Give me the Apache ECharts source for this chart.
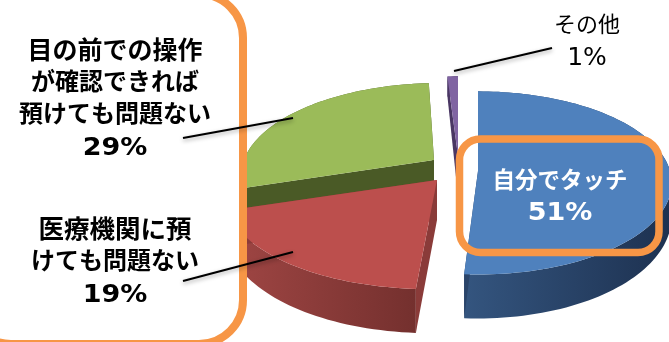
<!DOCTYPE html>
<html>
<head>
<meta charset="utf-8">
<style>
  html, body { margin: 0; padding: 0; background: #fff; }
  #chart { width: 669px; height: 342px; }
</style>
<script src="https://cdn.jsdelivr.net/npm/echarts@6/dist/echarts.min.js"></script>
</head>
<body>
<div id="chart"></div>
<script>
// Share of answers, clockwise from twelve o'clock
const categories = ['自分でタッチ', '医療機関に預けても問題ない', '目の前での操作が確認できれば預けても問題ない', 'その他'];
const shares = [51, 19, 29, 1];

// Back-to-front painting order of the exploded slices
const paintOrder = [2, 3, 1, 0];

// Tip of each pulled-out slice, its scale on the tilted disc and its lean
const sliceTips = [[478, 171], [437, 180], [434, 160], [458, 156]];
const sliceScale = [[192, 90], [210, 95], [190, 87], [190, 90]];
const sliceSkew = [0, -0.055, -0.07, 0];
const perspective = 0.13;

const topFaceColors = ['#4F81BD', '#BC4F4D', '#9BBB59', '#8064A2'];
const rimColors = [['#34557F', '#1D3150'], ['#A04644', '#74302E'], ['#5A6E2C', '#4A5A26'], ['#5B4678', '#3B2C52']];
const cutColors = ['#2A4469', '#8A3B39', '#4A5A26', '#4A3763'];

const FONT = '"DejaVu Sans", "Noto Sans CJK JP", sans-serif';

function project(index, angle, drop) {
  const [tx, ty] = sliceTips[index];
  const [rx, ry] = sliceScale[index];
  const s = Math.sin(angle), c = Math.cos(angle);
  const d = 1 + perspective * c;
  const dy = -ry * c / d;
  return [tx + rx * s / d + sliceSkew[index] * dy, ty + dy + drop];
}

// Wall height shrinks towards the sides of the disc, as it does under perspective
function wallDrop(angle) {
  return 32 - 12 * Math.cos(angle);
}

function sliceRange(index) {
  const total = shares.reduce((a, b) => a + b, 0);
  const before = shares.slice(0, index).reduce((a, b) => a + b, 0);
  return [before / total * 2 * Math.PI, (before + shares[index]) / total * 2 * Math.PI];
}

function renderSlice(params, api) {
  const index = api.value(0);
  const [from, to] = sliceRange(index);
  const steps = Math.max(2, Math.ceil((to - from) / 0.03));
  const topArc = [], lowArc = [];
  for (let k = 0; k <= steps; k++) {
    const a = from + (to - from) * k / steps;
    topArc.push(project(index, a, 0));
    lowArc.push(project(index, a, wallDrop(a)));
  }
  const tip = sliceTips[index].slice();
  const tipLow = [tip[0], tip[1] + 40];
  const poly = (points, fill) => ({ type: 'polygon', shape: { points }, style: { fill } });
  const rimFill = new echarts.graphic.LinearGradient(0, 0, 1, 0, [
    { offset: 0, color: rimColors[index][0] },
    { offset: 1, color: rimColors[index][1] }
  ]);
  const children = [
    poly(topArc.concat(lowArc.slice().reverse()), rimFill),
    poly([tip, topArc[0], lowArc[0], tipLow], cutColors[index]),
    poly([tip, topArc[steps], lowArc[steps], tipLow], cutColors[index]),
    poly([tip].concat(topArc), topFaceColors[index])
  ];
  return { type: 'group', children };
}

function label(text, x, y, size, color, weight, stretch) {
  return {
    type: 'text', z: 120, silent: true,
    x, y, scaleX: stretch || 1,
    style: {
      text, x: 0, y: 0, fill: color, align: 'center', verticalAlign: 'middle',
      font: `${weight} ${size}px ${FONT}`
    }
  };
}

function leader(points) {
  return {
    type: 'polyline', z: 110, silent: true,
    shape: { points },
    style: {
      stroke: '#000', lineWidth: 2, fill: null,
      shadowBlur: 4, shadowColor: 'rgba(0,0,0,0.35)', shadowOffsetY: 2
    }
  };
}

const chart = echarts.init(document.getElementById('chart'), null, { renderer: 'canvas' });
chart.setOption({
  animation: false,
  backgroundColor: '#fff',
  series: [{
    type: 'custom',
    coordinateSystem: 'none',
    silent: true,
    clip: false,
    renderItem: renderSlice,
    data: paintOrder.map(i => ({ name: categories[i], value: [i, shares[i]] }))
  }],
  graphic: [
    // Panel that holds the two left-hand answers
    {
      type: 'rect', z: 100, silent: true,
      shape: { x: -33, y: -6, width: 276, height: 350, r: 44 },
      style: { fill: '#fff', stroke: '#F79646', lineWidth: 8 }
    },
    // Highlight around the largest answer
    {
      type: 'rect', z: 100, silent: true,
      shape: { x: 459.5, y: 139, width: 199.5, height: 113.5, r: 21 },
      style: { fill: null, stroke: '#F79646', lineWidth: 7.5 }
    },
    leader([[183, 138], [293, 118]]),
    leader([[183, 281], [293, 252]]),
    leader([[454, 71], [552, 48]]),
    label('目の前での操作', 115, 52, 25, '#000', 'bold'),
    label('が確認できれば', 115, 84, 24, '#000', 'bold'),
    label('預けても問題ない', 115, 116, 24, '#000', 'bold'),
    label(shares[2] + '%', 115, 148, 25, '#000', 'bold', 1.08),
    label('医療機関に預', 115, 231, 25.5, '#000', 'bold'),
    label('けても問題ない', 115, 263, 24, '#000', 'bold'),
    label(shares[1] + '%', 115, 295, 25, '#000', 'bold', 1.08),
    label('自分でタッチ', 560, 182, 22.5, '#fff', 'bold'),
    label(shares[0] + '%', 560, 213, 25, '#fff', 'bold', 1.08),
    label('その他', 587, 26, 22, '#000', 'normal'),
    label(shares[3] + '%', 587, 58, 25, '#000', 'normal')
  ]
});
</script>
</body>
</html>
